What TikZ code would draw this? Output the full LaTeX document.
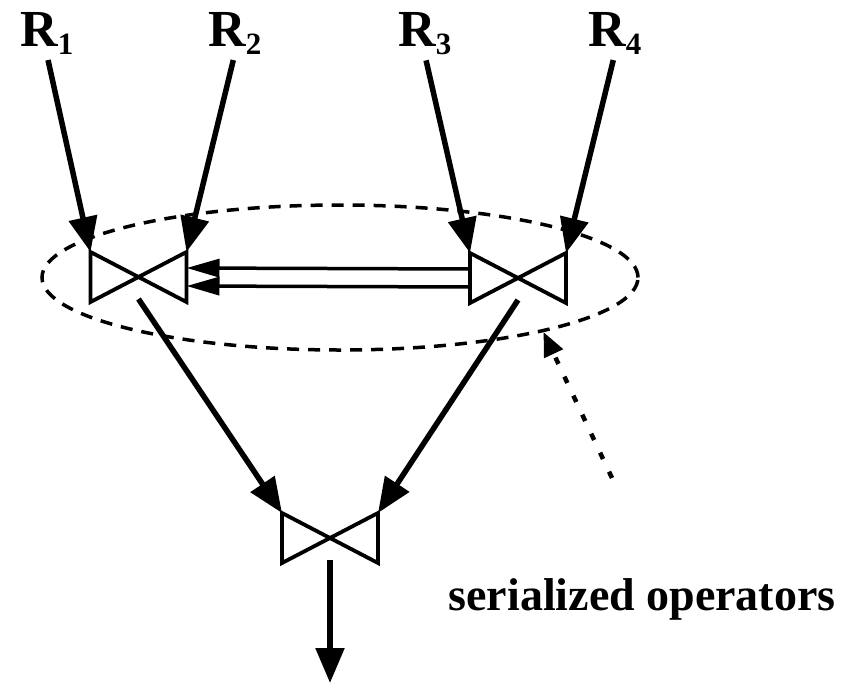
\documentclass[tikz,border=0pt]{standalone}
\usepackage{fontspec}
\setmainfont{Liberation Serif}
\usetikzlibrary{arrows.meta,calc,shapes.geometric}
\newcommand\relsub[1]{R\raisebox{-7pt}{\fontsize{31}{31}\selectfont #1}}

\begin{document}
\begin{tikzpicture}[
    x=1pt, y=-1pt,
    relation/.style={inner sep=0pt, anchor=base west, font=\fontsize{52}{52}\selectfont\bfseries},
    note/.style={inner sep=0pt, anchor=base, font=\fontsize{46}{46}\selectfont\bfseries},
    arrow/.style={-{Triangle[length=35pt,width=28pt]}, line width=5.5pt},
    flow/.style={-{Triangle[length=33pt,width=18pt]}, line width=3.5pt},
    group/.style={ellipse, draw, dash pattern=on 12pt off 9pt, line width=3.5pt, minimum width=596pt, minimum height=145pt, inner sep=0pt},
    pointer/.style={-{Triangle[length=24pt,width=20pt]}, line width=4.5pt, dash pattern=on 7pt off 14pt},
    join/.pic={
        \coordinate (-tl) at (-48,-25);
        \coordinate (-bl) at (-48,25);
        \coordinate (-tr) at (48,-25);
        \coordinate (-br) at (48,25);
        \coordinate (-l) at (-48,0);
        \coordinate (-r) at (48,0);
        \coordinate (-o) at (0,22);
        \draw[line width=3.8pt, line join=miter] (-tl) -- (-bl) -- (-tr) -- (-br) -- cycle;
    }
]
\useasboundingbox (0,0) rectangle (842,685);

\node[relation] (R1) at (20,47) {\relsub{1}};
\node[relation] (R2) at (208,47) {\relsub{2}};
\node[relation] (R3) at (398,47) {\relsub{3}};
\node[relation] (R4) at (588,47) {\relsub{4}};

\pic (j1) at (138.5,277) {join};
\pic (j2) at (518,278) {join};
\pic (j3) at (330,538) {join};

\node[group] (grp) at (340,277.5) {};
\node[note] (lbl) at (642,610) {serialized operators};
\coordinate (tail) at (612,478);
\coordinate (out) at (330,683);

\draw[arrow, shorten <=6pt] (R1.south) -- (j1-tl);
\draw[arrow, shorten <=6pt] (R2.south) -- (j1-tr);
\draw[arrow, shorten <=6pt] (R3.south) -- (j2-tl);
\draw[arrow, shorten <=6pt] (R4.south) -- (j2-tr);

\draw[flow] ($(j2-l)+(0,-9)$) -- ($(j1-r)+(0,-9)$);
\draw[flow] ($(j2-l)+(0,9)$) -- ($(j1-r)+(0,9)$);

\draw[arrow] (j1-o) -- (j3-tl);
\draw[arrow] (j2-o) -- (j3-tr);
\draw[arrow] (j3-o) -- (out);

\draw[pointer] (tail) -- (grp.-15);

\end{tikzpicture}
\end{document}
